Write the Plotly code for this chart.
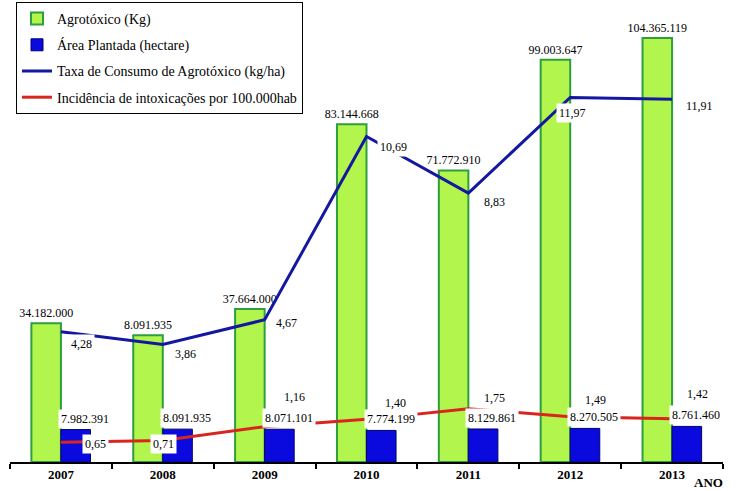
import plotly.graph_objects as go

# ---- data ----
anos = ["2007", "2008", "2009", "2010", "2011", "2012", "2013"]
agrotoxico_kg = [34182000, 31200000, 37664000, 83144668, 71772910, 99003647, 104365119]
agrotoxico_labels = ["34.182.000", "8.091.935", "37.664.000", "83.144.668",
                     "71.772.910", "99.003.647", "104.365.119"]
area_plantada = [7982391, 8091935, 8071101, 7774199, 8129861, 8270505, 8761460]
area_labels = ["7.982.391", "8.091.935", "8.071.101", "7.774.199",
               "8.129.861", "8.270.505", "8.761.460"]
taxa_consumo = [4.28, 3.86, 4.67, 10.69, 8.83, 11.97, 11.91]
taxa_labels = ["4,28", "3,86", "4,67", "10,69", "8,83", "11,97", "11,91"]
incidencia = [0.65, 0.71, 1.16, 1.40, 1.75, 1.49, 1.42]
incid_labels = ["0,65", "0,71", "1,16", "1,40", "1,75", "1,49", "1,42"]

# ---- label offsets (pixels, style only) ----
taxa_dx = [21, 23, 22, 27, 26, 2, 27]
taxa_dy = [-12, -10, -3, -11, -9, -15, -7]
incid_dx = [35, 1, 30, 29, 26, 25, 25]
incid_dy = [-2, -4, 30, 16, 11, 17, 25]

FONT = "Liberation Serif"
W, H = 736, 491
ML, MR, MT, MB = 10, 13, 10, 29
plot_w = W - ML - MR
plot_h = H - MT - MB

fig = go.Figure()

fig.add_trace(go.Bar(
    x=anos, y=agrotoxico_kg, name="Agrotóxico (Kg)",
    marker=dict(color="#b2f54c", line=dict(color="#2e9e3e", width=2)),
    text=agrotoxico_labels, textposition="outside", constraintext="none",
    cliponaxis=False, textfont=dict(family=FONT, size=12, color="black"),
    legendgroup="a",
))
fig.add_trace(go.Bar(
    x=anos, y=area_plantada, name="Área Plantada (hectare)",
    marker=dict(color="#0a0ade", line=dict(color="#00006e", width=1)),
    legendgroup="b",
))
fig.add_trace(go.Scatter(
    x=anos, y=taxa_consumo, name="Taxa de Consumo de Agrotóxico (kg/ha)",
    mode="lines", line=dict(color="#1418a0", width=3), yaxis="y2",
    legendgroup="c",
))
fig.add_trace(go.Scatter(
    x=anos, y=incidencia, name="Incidência de intoxicações por 100.000hab",
    mode="lines", line=dict(color="#d8261e", width=3), yaxis="y2",
    legendgroup="d",
))

lab_font = dict(family=FONT, size=12, color="black")
ann = []
for i, (v, t) in enumerate(zip(area_plantada, area_labels)):
    ann.append(dict(x=i, y=v, xref="x", yref="y", text=t, showarrow=False,
                    xshift=24, yanchor="bottom", yshift=1, bgcolor="white",
                    borderpad=2, font=lab_font))
for i, (v, t, dx, dy) in enumerate(zip(taxa_consumo, taxa_labels, taxa_dx, taxa_dy)):
    ann.append(dict(x=i, y=v, xref="x", yref="y2", text=t, showarrow=False,
                    xshift=dx, yshift=dy, bgcolor="white", borderpad=2,
                    font=lab_font))
for i, (v, t, dx, dy) in enumerate(zip(incidencia, incid_labels, incid_dx, incid_dy)):
    ann.append(dict(x=i, y=v, xref="x", yref="y2", text=t, showarrow=False,
                    xshift=dx, yshift=dy, bgcolor="white", borderpad=2,
                    font=lab_font))
ann.append(dict(x=(708 - ML) / plot_w, y=-(483 - (H - MB)) / plot_h,
                xref="paper", yref="paper", xanchor="center", yanchor="middle",
                text="ANO", showarrow=False,
                font=dict(family=FONT, size=13, color="black", weight=700)))

fig.update_layout(
    width=W, height=H,
    margin=dict(l=ML, r=MR, t=MT, b=MB, autoexpand=False),
    paper_bgcolor="white", plot_bgcolor="white",
    barmode="group", bargap=0.42, bargroupgap=0,
    font=dict(family=FONT, size=13, color="black"),
    xaxis=dict(type="category", range=[-0.5, 6.5], showline=True, linecolor="black",
               linewidth=1.5, ticks="outside", tickson="boundaries", ticklen=5,
               tickcolor="black", tickwidth=1.5, showgrid=False, zeroline=False,
               tickfont=dict(family=FONT, size=13, color="black", weight=700)),
    yaxis=dict(range=[0, plot_h * 246200], visible=False, showgrid=False),
    yaxis2=dict(range=[0, plot_h / 30.45], overlaying="y", visible=False,
                showgrid=False),
    legend=dict(x=(16 - ML) / plot_w, y=1 + 8 / plot_h, xanchor="left",
                yanchor="top", bordercolor="black", borderwidth=1, bgcolor="white",
                font=dict(family=FONT, size=14, color="black"),
                traceorder="grouped", tracegroupgap=5, itemwidth=30),
    annotations=ann,
    showlegend=True,
)

fig.write_html("out.html", config={"displayModeBar": False},
               post_script="document.body.style.margin='0';")
